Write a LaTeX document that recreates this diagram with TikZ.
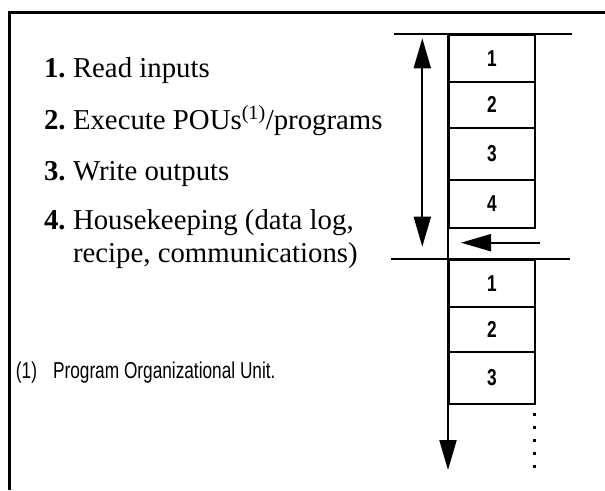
\documentclass[tikz,border=0pt]{standalone}
\usepackage{fontspec}
\setmainfont{Liberation Serif}
\newfontfamily\condsans[FakeStretch=0.75]{Liberation Sans}
\usetikzlibrary{arrows.meta}

\begin{document}
\begin{tikzpicture}[x=1pt,y=-1pt,line width=2pt]
\tikzstyle{stepno}=[anchor=base west,inner sep=0pt,font=\fontsize{28.8}{34}\selectfont\bfseries]
\tikzstyle{steptext}=[anchor=base west,inner sep=0pt,align=left,font=\fontsize{28.8}{33}\selectfont]
\tikzstyle{slot}=[draw,anchor=north west,minimum width=86pt,inner sep=0pt,font=\condsans\fontsize{23}{23}\selectfont\bfseries]
\tikzstyle{bigtip}=[-{Triangle[length=30pt,width=17pt]}]
\tikzstyle{bigtips}=[{Triangle[length=30pt,width=17pt]}-{Triangle[length=30pt,width=17pt]}]
\useasboundingbox (0,0) rectangle (605,490);
\draw[line width=3pt] (9.5,490) -- (9.5,12.5) -- (605,12.5);
\foreach \n/\y/\ty/\txt in {1/77/77/{Read inputs},2/129/129/{Execute POUs\textsuperscript{(1)}/programs},3/180/180/{Write outputs},4/229/262/{Housekeeping (data log,\\recipe, communications)}}{
\node[stepno] (n\n) at (43,\y) {\n.};
\node[steptext] (t\n) at (72,\ty) {\txt};
}
\node[anchor=base west,inner sep=0pt,font=\condsans\fontsize{23}{26}\selectfont] (fn) at (15,378) {(1)\hspace{16pt}Program Organizational Unit.};
\foreach \n/\y/\h in {1/34.3/46.7,2/81/45.7,3/126.7/52.6,4/179.3/47.4}
\node[slot,minimum height=\h] (up\n) at (448,\y) {\n};
\foreach \n/\y/\h in {1/259.3/46.4,2/305.7/45,3/350.7/52.6}
\node[slot,minimum height=\h] (lo\n) at (448,\y) {\n};
\coordinate (topL) at (394,34.3);
\coordinate (topR) at (572,34.3);
\coordinate (midL) at (391,259.3);
\coordinate (midR) at (570,259.3);
\draw (topL) -- (topR);
\draw (midL) -- (midR);
\coordinate (scanTop) at (422.3,38.3);
\coordinate (scanBot) at (422.3,246.7);
\draw[bigtips] (scanTop) -- (scanBot);
\coordinate (back) at (540,242.7);
\coordinate (backTip) at (461,242.7);
\draw[bigtip] (back) -- (backTip);
\coordinate (timeEnd) at (448,470);
\draw[bigtip] (up1.north west) -- (timeEnd);
\coordinate (dotTop) at (534.5,412.7);
\coordinate (dotBot) at (534.5,467.7);
\draw[line width=2.5pt,dash pattern=on 3.5pt off 9.5pt] (dotTop) -- (dotBot);
\end{tikzpicture}
\end{document}
